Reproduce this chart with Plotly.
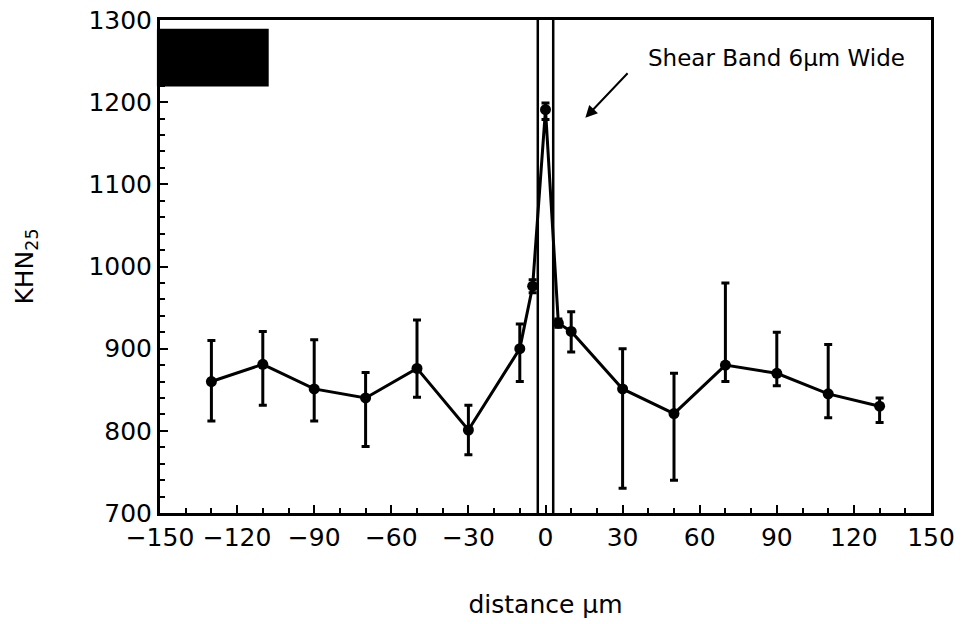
import plotly.graph_objects as go

distance = [-130, -110, -90, -70, -50, -30, -10, -5, 0, 5, 10, 30, 50, 70, 90, 110, 130]
khn = [860, 881, 851, 840, 876, 801, 900, 976, 1191, 931, 921, 851, 821, 880, 870, 845, 830]
err_plus = [50, 40, 60, 31, 59, 30, 30, 8, 8, 5, 24, 49, 49, 100, 50, 60, 10]
err_minus = [48, 50, 39, 59, 35, 30, 40, 8, 12, 5, 25, 121, 81, 20, 15, 29, 20]
band_edges = [-3, 3]
xticks = [-150, -120, -90, -60, -30, 0, 30, 60, 90, 120, 150]
yticks = [700, 800, 900, 1000, 1100, 1200, 1300]

FONT = "DejaVu Sans"

fig = go.Figure()
fig.add_trace(go.Scatter(
    x=distance, y=khn, mode="lines+markers",
    line=dict(color="black", width=3),
    marker=dict(color="black", size=11),
    error_y=dict(type="data", symmetric=False, array=err_plus, arrayminus=err_minus,
                 color="black", thickness=3, width=4),
    showlegend=False,
))

for xe in band_edges:
    fig.add_shape(type="line", x0=xe, x1=xe, y0=0, y1=1, xref="x", yref="paper",
                  line=dict(color="black", width=2.5))

# redaction box
fig.add_shape(type="rect", xref="paper", yref="paper",
              x0=-0.004, x1=0.141, y0=0.865, y1=0.982,
              fillcolor="black", line=dict(width=0))

fig.add_annotation(x=15.5, y=1181, ax=32.5, ay=1237, xref="x", yref="y",
                   axref="x", ayref="y", showarrow=True, arrowhead=2,
                   arrowwidth=2, arrowsize=1.2, arrowcolor="black", text="")
fig.add_annotation(x=39, y=1254, xref="x", yref="y", xanchor="left", showarrow=False,
                   text="Shear Band 6μm Wide",
                   font=dict(family=FONT, size=23, color="black"))

fig.update_layout(
    width=965, height=624,
    margin=dict(l=160, r=34, t=20, b=111),
    plot_bgcolor="white", paper_bgcolor="white",
    font=dict(family=FONT, size=25, color="black"),
)
fig.update_xaxes(
    range=[-150, 150], tickvals=xticks, ticktext=[str(v).replace("-", "\u2212") for v in xticks],
    ticks="inside", ticklen=8, tickwidth=2, tickcolor="black",
    minor=dict(ticks="inside", dtick=10, ticklen=5, tickwidth=2, tickcolor="black"),
    showline=True, linecolor="black", linewidth=3, mirror=True, showgrid=False,
    zeroline=False, automargin=False,
    title=dict(text="distance μm", font=dict(size=25), standoff=45),
)
fig.update_yaxes(
    range=[700, 1300], tickvals=yticks,
    ticks="inside", ticklen=8, tickwidth=2, tickcolor="black",
    minor=dict(ticks="inside", dtick=20, ticklen=5, tickwidth=2, tickcolor="black"),
    showline=True, linecolor="black", linewidth=3, mirror=True, showgrid=False,
    zeroline=False, automargin=False,
    title=dict(text="KHN<sub>25</sub>", font=dict(size=25), standoff=48),
)

fig.write_html("out.html")
